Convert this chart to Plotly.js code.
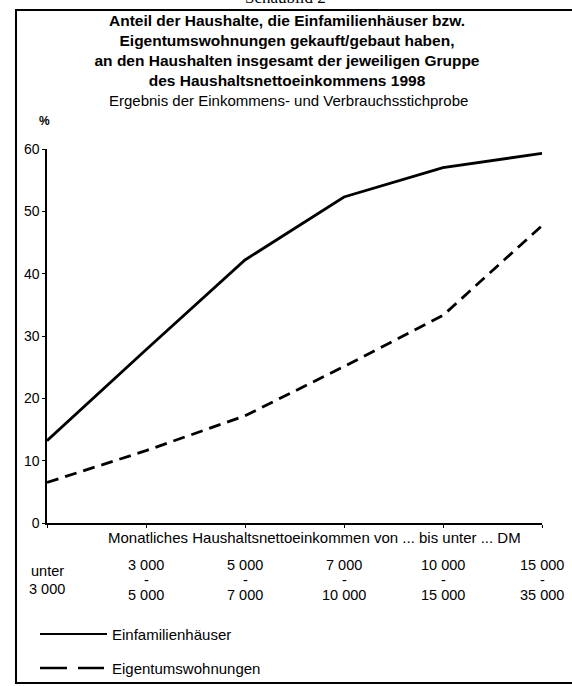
<!DOCTYPE html>
<html>
<head>
<meta charset="utf-8">
<script src="https://cdn.plot.ly/plotly-3.0.1.min.js"></script>
<style>html,body{margin:0;padding:0;background:#fff;}#chart{width:572px;height:686px;}</style>
</head>
<body>
<div id="chart"></div>
<script>
// ---- data ----
const categories = ["unter 3 000", "3 000 - 5 000", "5 000 - 7 000", "7 000 - 10 000", "10 000 - 15 000", "15 000 - 35 000"];
const tickTop = ["unter", "3 000", "5 000", "7 000", "10 000", "15 000"];
const tickBottom = ["3 000", "5 000", "7 000", "10 000", "15 000", "35 000"];
const einfamilienhaeuser = [13.2, 27.8, 42.2, 52.3, 57.0, 59.3];
const eigentumswohnungen = [6.5, 11.6, 17.2, 25.1, 33.3, 47.7];
const seriesNames = ["Einfamilienhäuser", "Eigentumswohnungen"];
const yTicks = [0, 10, 20, 30, 40, 50, 60];

// ---- layout helpers ----
const W = 572, H = 686;
const M = {l: 47, r: 30, t: 149, b: 163};
const PW = W - M.l - M.r, PH = H - M.t - M.b;
const px = x => (x - M.l) / PW;
const py = y => 1 - (y - M.t) / PH;
const FONT = "Liberation Sans, Arial, sans-serif";

const traces = [
  {x: categories, y: einfamilienhaeuser, name: seriesNames[0], type: "scatter", mode: "lines",
   line: {color: "#000", width: 2.8}, cliponaxis: false},
  {x: categories, y: eigentumswohnungen, name: seriesNames[1], type: "scatter", mode: "lines",
   line: {color: "#000", width: 2.8, dash: "12px,7px"}, cliponaxis: false}
];

const annotations = [
  {text: "Schaubild 2", xref: "paper", yref: "paper", x: px(285), y: py(-2), xanchor: "center", yanchor: "middle",
   showarrow: false, font: {family: "Liberation Serif, Times New Roman, serif", size: 17, color: "#000"}},
  {text: "Ergebnis der Einkommens- und Verbrauchsstichprobe", xref: "paper", yref: "paper", x: px(288), y: py(101),
   xanchor: "center", yanchor: "middle", showarrow: false, font: {family: FONT, size: 15, color: "#000"}},
  {text: "<b>%</b>", xref: "paper", yref: "paper", x: px(44), y: py(121), xanchor: "center", yanchor: "middle",
   showarrow: false, font: {family: FONT, size: 12, color: "#000"}},
  {text: "Monatliches Haushaltsnettoeinkommen von ... bis unter ... DM", xref: "paper", yref: "paper",
   x: px(314), y: py(537), xanchor: "center", yanchor: "middle", showarrow: false,
   font: {family: FONT, size: 15, color: "#000"}}
];
const tickFont = {family: FONT, size: 14.5, color: "#000"};
categories.forEach((c, i) => {
  const first = i === 0;
  annotations.push({text: tickTop[i], xref: "x", yref: "paper", x: c, y: py(first ? 571 : 565), xanchor: "center",
    yanchor: "middle", showarrow: false, font: tickFont});
  if (!first) {
    annotations.push({text: "-", xref: "x", yref: "paper", x: c, y: py(580), xanchor: "center",
      yanchor: "middle", showarrow: false, font: tickFont});
  }
  annotations.push({text: tickBottom[i], xref: "x", yref: "paper", x: c, y: py(first ? 589 : 595), xanchor: "center",
    yanchor: "middle", showarrow: false, font: tickFont});
});
// legend text
annotations.push({text: seriesNames[0], xref: "paper", yref: "paper", x: px(110), y: py(634), xanchor: "left",
  yanchor: "middle", showarrow: false, font: {family: FONT, size: 15, color: "#000"}});
annotations.push({text: seriesNames[1], xref: "paper", yref: "paper", x: px(110), y: py(668), xanchor: "left",
  yanchor: "middle", showarrow: false, font: {family: FONT, size: 15, color: "#000"}});

const shapes = [
  // frame
  {type: "rect", xref: "paper", yref: "paper", x0: px(16), x1: px(640), y0: py(10), y1: py(683),
   line: {color: "#000", width: 2}, fillcolor: "rgba(0,0,0,0)"},
  // legend samples
  {type: "line", xref: "paper", yref: "paper", x0: px(40), x1: px(107), y0: py(634), y1: py(634),
   line: {color: "#000", width: 2}},
  {type: "line", xref: "paper", yref: "paper", x0: px(40), x1: px(104), y0: py(668), y1: py(668),
   line: {color: "#000", width: 2.6, dash: "27px,11px"}}
];

const layout = {
  width: W, height: H,
  margin: M,
  paper_bgcolor: "#fff", plot_bgcolor: "#fff",
  showlegend: false,
  title: {
    text: "<b>Anteil der Haushalte, die Einfamilienhäuser bzw.<br>Eigentumswohnungen gekauft/gebaut haben,<br>an den Haushalten insgesamt der jeweiligen Gruppe<br>des Haushaltsnettoeinkommens 1998</b>",
    font: {family: FONT, size: 15.5, color: "#000"},
    xref: "container", yref: "container", x: 287 / W, xanchor: "center", y: 1 - 26 / H, yanchor: "top"
  },
  xaxis: {
    type: "category", categoryorder: "array", categoryarray: categories, range: [0, 5],
    showline: true, linecolor: "#000", linewidth: 1.6, showgrid: false, zeroline: false,
    ticks: "outside", ticklen: 3, tickwidth: 1, tickcolor: "#000", showticklabels: false, fixedrange: true
  },
  yaxis: {
    range: [0, 60], tickvals: yTicks, ticktext: yTicks.map(String),
    showline: true, linecolor: "#000", linewidth: 1.6, showgrid: false, zeroline: false,
    ticks: "outside", ticklen: 3, tickwidth: 1, tickcolor: "#000",
    tickfont: {family: FONT, size: 14, color: "#000"}, fixedrange: true
  },
  annotations: annotations,
  shapes: shapes
};

Plotly.newPlot("chart", traces, layout, {displayModeBar: false, staticPlot: true});
</script>
</body>
</html>
